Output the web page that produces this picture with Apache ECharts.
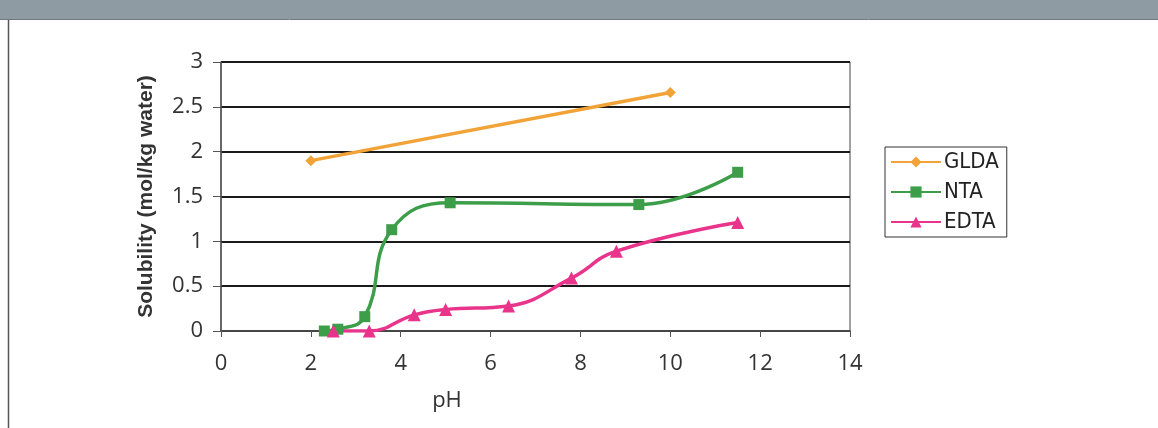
<!DOCTYPE html>
<html>
<head>
<meta charset="utf-8">
<script src="https://cdn.jsdelivr.net/npm/echarts@6/dist/echarts.min.js"></script>
<style>
html,body{margin:0;padding:0;background:#fff;}
#chart{width:1158px;height:428px;}
</style>
</head>
<body>
<div id="chart"></div>
<script>
// Data
const seriesNames = ['GLDA', 'NTA', 'EDTA'];
const gldaPH = [2, 10];
const gldaSol = [1.9, 2.66];
const ntaPH = [2.3, 2.6, 3.2, 3.8, 5.1, 9.3, 11.5];
const ntaSol = [0, 0.02, 0.16, 1.13, 1.43, 1.41, 1.77];
const edtaPH = [2.5, 3.3, 4.3, 5.0, 6.4, 7.8, 8.8, 11.5];
const edtaSol = [0, 0, 0.18, 0.24, 0.28, 0.59, 0.89, 1.21];
const xTicks = [0, 2, 4, 6, 8, 10, 12, 14];
const yTicks = [0, 0.5, 1, 1.5, 2, 2.5, 3];

const pairs = (xs, ys) => xs.map((x, i) => [x, ys[i]]);

const chart = echarts.init(document.getElementById('chart'), null, {renderer: 'canvas'});
const tickFont = '"Open Sans", "Noto Sans", sans-serif';
const legFont = '"DejaVu Sans Condensed", "Liberation Sans", sans-serif';
const titleFont = '"Liberation Sans", Arial, sans-serif';

chart.setOption({
  backgroundColor: '#ffffff',
  animation: false,
  graphic: [
    {type: 'rect', left: 0, top: 0, shape: {width: 1158, height: 19}, style: {fill: '#8f9ba3'}, silent: true},
    {type: 'line', shape: {x1: 0, y1: 19.5, x2: 1158, y2: 19.5}, style: {stroke: '#6f7a80', lineWidth: 1}, silent: true},
    {type: 'line', shape: {x1: 8.5, y1: 20, x2: 8.5, y2: 428}, style: {stroke: '#555', lineWidth: 1.5}, silent: true}
  ],
  grid: {left: 221, right: 308, top: 62, bottom: 97, show: true, borderColor: '#444', borderWidth: 1, containLabel: false},
  legend: {
    orient: 'vertical',
    left: 885, top: 147,
    data: seriesNames,
    itemWidth: 50, itemHeight: 14, itemGap: 8,
    padding: [4, 8, 4, 5],
    borderColor: '#333', borderWidth: 1,
    textStyle: {fontFamily: legFont, fontSize: 22, color: '#222', padding: [0, 0, 0, -2]}
  },
  xAxis: {
    type: 'value', min: 0, max: 14, interval: 2,
    name: 'pH', nameLocation: 'middle', nameGap: 59,
    nameTextStyle: {fontFamily: tickFont, fontSize: 22, color: '#333', padding: [0, 177, 0, 0]},
    axisLine: {lineStyle: {color: '#555', width: 1.5}},
    axisTick: {show: true, length: 6, lineStyle: {color: '#555'}},
    axisLabel: {fontFamily: tickFont, fontSize: 22, color: '#333', margin: 22,
      formatter: v => xTicks.includes(v) ? String(v) : ''},
    splitLine: {show: false}
  },
  yAxis: {
    type: 'value', min: 0, max: 3, interval: 0.5,
    name: 'Solubility (mol/kg water)', nameLocation: 'middle', nameGap: 64,
    nameTextStyle: {fontFamily: titleFont, fontSize: 21, fontWeight: 'bold', color: '#333'},
    axisLine: {show: true, lineStyle: {color: '#555', width: 1.5}},
    axisTick: {show: true, length: 8, lineStyle: {color: '#555'}},
    axisLabel: {fontFamily: tickFont, fontSize: 22, color: '#333', margin: 18,
      formatter: v => yTicks.includes(v) ? String(v) : ''},
    splitLine: {show: true, lineStyle: {color: '#1a1a1a', width: 1.8}}
  },
  series: [
    {name: 'GLDA', type: 'line', data: pairs(gldaPH, gldaSol),
      symbol: 'diamond', symbolSize: 11, color: '#f2a338',
      lineStyle: {width: 3.5, color: '#f2a338'}, itemStyle: {color: '#f2a338'}},
    {name: 'NTA', type: 'line', data: pairs(ntaPH, ntaSol), smooth: 0.45,
      symbol: 'rect', symbolSize: 11, color: '#3d9e4a',
      lineStyle: {width: 3.5, color: '#3d9e4a'}, itemStyle: {color: '#3d9e4a'}},
    {name: 'EDTA', type: 'line', data: pairs(edtaPH, edtaSol), smooth: 0.45,
      symbol: 'triangle', symbolSize: 13, color: '#e8358b',
      lineStyle: {width: 3.5, color: '#e8358b'}, itemStyle: {color: '#e8358b'}}
  ]
});
</script>
</body>
</html>
